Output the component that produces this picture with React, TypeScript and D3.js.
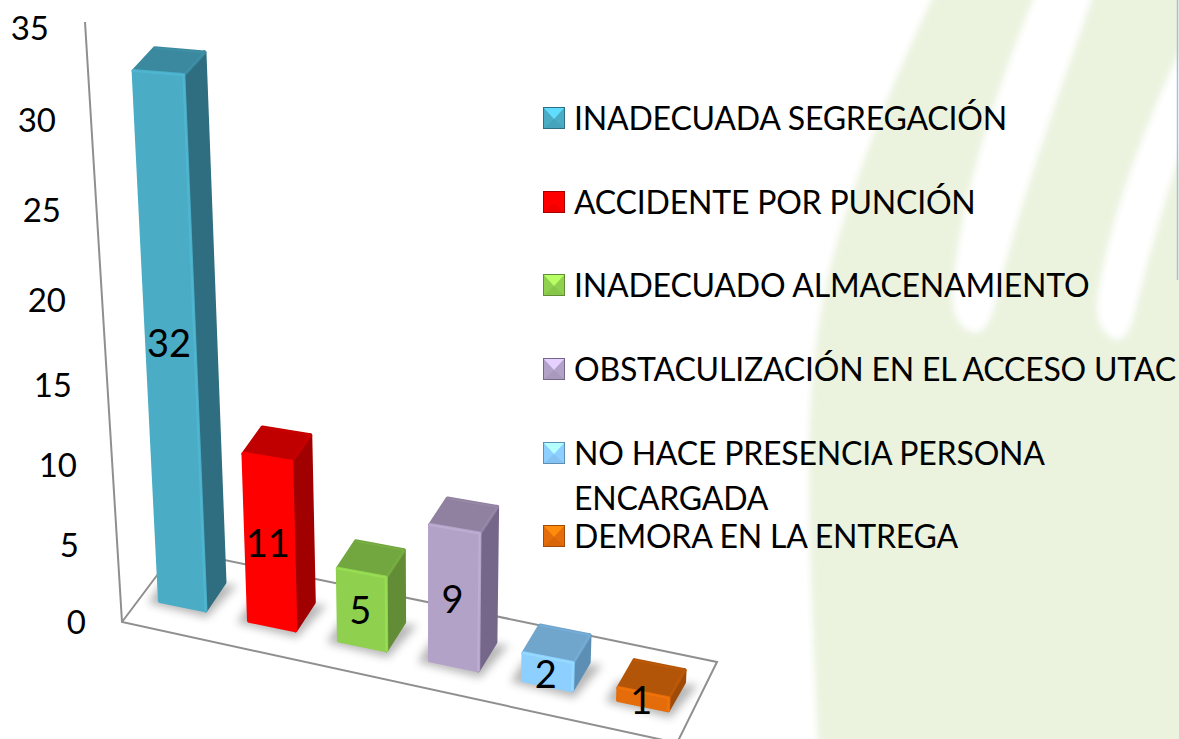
import React from "react";
import * as d3 from "d3";

const categories = [
  "INADECUADA SEGREGACIÓN",
  "ACCIDENTE POR PUNCIÓN",
  "INADECUADO ALMACENAMIENTO",
  "OBSTACULIZACIÓN EN EL ACCESO UTAC",
  "NO HACE PRESENCIA PERSONA ENCARGADA",
  "DEMORA EN LA ENTREGA",
];
const values = [32, 11, 5, 9, 2, 1];
const axisTicks = [0, 5, 10, 15, 20, 25, 30, 35];
const frontColors = ["#4BACC6", "#FF0000", "#8FD14F", "#B3A2C7", "#8DCFFF", "#E46C0A"];
const topColors = ["#3B899E", "#C00000", "#72A63F", "#8F819F", "#70A5CC", "#B35508"];
const sideColors = ["#2F6E80", "#A00000", "#628C35", "#75678A", "#5D8FB5", "#9F4A07"];

const W = 1179;
const H = 739;
const barIndex = [0, 1, 2, 3, 4, 5];

// projection of the 3-D chart space on the page
const floorX = d3.scaleLinear().domain(barIndex).range([160, 249, 339, 430, 523, 618]);
const floorY = d3.scaleLinear().domain([0, 5]).range([601, 700]);
const barW = d3.scaleLinear().domain([0, 5]).range([45.5, 50]);
const depthX = d3.scaleLinear().domain([0, 5]).range([19, 16]);
const heightOf = d3.scaleLinear().domain([0, 1, 5, 11, 32]).range([0, 12, 72, 167, 530]);
const lean = d3.scaleLinear().domain([159, 428]).range([0.05, 0]);

const tickY = d3.scaleLinear().domain(axisTicks).range([622, 545, 465, 385, 300, 210, 120, 28]);
const tickRight = d3.scaleLinear().domain(axisTicks).range([86, 79, 77, 72, 66, 61, 56, 49]);

// s: 0 left → 1 right of the bar, d: 0 front → 1 back
function project(i: number, s: number, d: number, v: number): [number, number] {
  const w = barW(i);
  const bx = floorX(i) + s * w + d * depthX(i);
  const by = floorY(i) + s * w * 0.205 - d * 28;
  const h = heightOf(v) * (1 + 0.01 * s) * (1 - 0.01 * d);
  return [bx - lean(bx) * h, by - h];
}
const pts = (a: [number, number][]) => a.map((p) => p.join(",")).join(" ");

const legendRows = [
  { i: 0, lines: [categories[0]], y: 118 },
  { i: 1, lines: [categories[1]], y: 202 },
  { i: 2, lines: [categories[2]], y: 285 },
  { i: 3, lines: [categories[3]], y: 369 },
  { i: 4, lines: ["NO HACE PRESENCIA PERSONA", "ENCARGADA"], y: 453 },
  { i: 5, lines: [categories[5]], y: 536 },
];

const FONT = "Lato, 'Open Sans', sans-serif";

function Bar({ i, v }: { i: number; v: number }) {
  const fl = project(i, 0, 0, v), fr = project(i, 1, 0, v);
  const bl = project(i, 0, 1, v), br = project(i, 1, 1, v);
  const f0 = project(i, 0, 0, 0), f1 = project(i, 1, 0, 0), b1 = project(i, 1, 1, 0);
  const round = 4;
  const hi = d3.color(frontColors[i])!.brighter(0.3).formatHex();
  const topHi = d3.color(topColors[i])!.brighter(0.25).formatHex();
  return (
    <g strokeLinejoin="round">
      <polygon points={pts([fr, br, b1, f1])} fill={sideColors[i]} stroke={sideColors[i]} strokeWidth={round} />
      <polygon points={pts([fl, bl, br, fr])} fill={topColors[i]} stroke={topColors[i]} strokeWidth={round} />
      <polyline points={pts([bl, br, fr])} fill="none" stroke={topHi} strokeWidth={1.5} opacity={0.6} />
      <polygon points={pts([fl, fr, f1, f0])} fill={frontColors[i]} stroke={frontColors[i]} strokeWidth={round} />
      <polyline points={pts([fl, fr, f1])} fill="none" stroke={hi} strokeWidth={2} opacity={0.55} strokeLinecap="round" />
    </g>
  );
}

function Shadow({ i }: { i: number }) {
  const a = project(i, -0.2, -0.14, 0), b = project(i, 1.12, -0.22, 0);
  const c = project(i, 1.28, 1.0, 0), e = project(i, -0.2, 0.6, 0);
  return <polygon points={pts([a, b, c, e])} fill="#7c7c7c" opacity={0.55} filter="url(#soft)" />;
}

function LegendKey({ i, y }: { i: number; y: number }) {
  const s = 11, x = 554;
  const light = d3.color(frontColors[i])!.brighter(0.7).formatHex();
  const dark = d3.color(frontColors[i])!.darker(0.45).formatHex();
  return (
    <g>
      <rect x={x - s} y={y - s} width={2 * s} height={2 * s} fill={frontColors[i]} />
      <polygon points={pts([[x - s, y - s], [x + s, y - s], [x, y + 1]])} fill={light} />
      <polygon points={pts([[x - s, y + s], [x + s, y + s], [x, y + 1]])} fill={dark} opacity={0.35} />
      <rect x={x - s + 0.5} y={y - s + 0.5} width={2 * s - 1} height={2 * s - 1} fill="none" stroke={sideColors[i]} strokeWidth={1} />
    </g>
  );
}

export default function App() {
  return (
    <svg width={W} height={H} viewBox={`0 0 ${W} ${H}`} style={{ position: "absolute", left: 0, top: 0, display: "block", background: "#fff" }}>
      <defs>
        <filter id="soft" x="-40%" y="-80%" width="180%" height="260%"><feGaussianBlur stdDeviation="4.5" /></filter>
        <filter id="bgsoft" x="-5%" y="-5%" width="110%" height="110%"><feGaussianBlur stdDeviation="3" /></filter>
      </defs>

      {/* background watermark */}
      <g filter="url(#bgsoft)">
        <path d="M936,-10 C898,70 858,165 832,260 C814,330 809,400 809,470 C809,560 814,650 818,750 L1195,750 L1195,-10 Z" fill="#EBF3DF" />
        <path d="M1037,-10 L1095,-10 C1060,90 1020,200 996,300 C990,325 982,335 972,332 C960,328 952,315 953,295 C958,200 1000,80 1037,-10 Z" fill="#fff" />
        <path d="M1195,20 L1195,110 C1170,180 1150,250 1134,315 C1128,338 1120,343 1112,338 C1100,332 1095,315 1098,295 C1110,215 1150,110 1195,20 Z" fill="#fff" />
      </g>
      <line x1={1177.5} y1={0} x2={1177.5} y2={280} stroke="#A9BEDA" strokeWidth={1.5} />

      {/* walls and floor */}
      <g fill="none" stroke="#8F8F8F" strokeWidth={2}>
        <polyline points="85,22 122,622 677,743 717,662 176,550 122,622" strokeLinejoin="miter" />
      </g>

      {values.map((_, i) => <Shadow key={i} i={i} />)}
      {values.map((v, i) => <Bar key={i} i={i} v={v} />)}

      {/* axis ticks */}
      <g fontFamily={FONT} fontSize={33} fill="#000" textAnchor="end">
        {axisTicks.map((t) => (
          <text key={t} x={tickRight(t)} y={tickY(t)} dy="0.36em">{t}</text>
        ))}
      </g>

      {/* value labels */}
      <g fontFamily={FONT} fontSize={38} fill="#000" textAnchor="middle">
        {values.map((v, i) => {
          const p = project(i, 0.5, 0, v / 2);
          return <text key={i} x={p[0] - 2} y={p[1] + 1.5 - v * 0.3} dy="0.36em">{v}</text>;
        })}
      </g>

      {/* legend */}
      {legendRows.map((r) => (
        <g key={r.i}>
          <LegendKey i={r.i} y={r.y} />
          <g fontFamily={FONT} fontSize={32} fill="#000" letterSpacing={-0.2}>
            {r.lines.map((t, k) => (
              <text key={k} x={574} y={r.y + 12 + k * 45}>{t}</text>
            ))}
          </g>
        </g>
      ))}
    </svg>
  );
}
